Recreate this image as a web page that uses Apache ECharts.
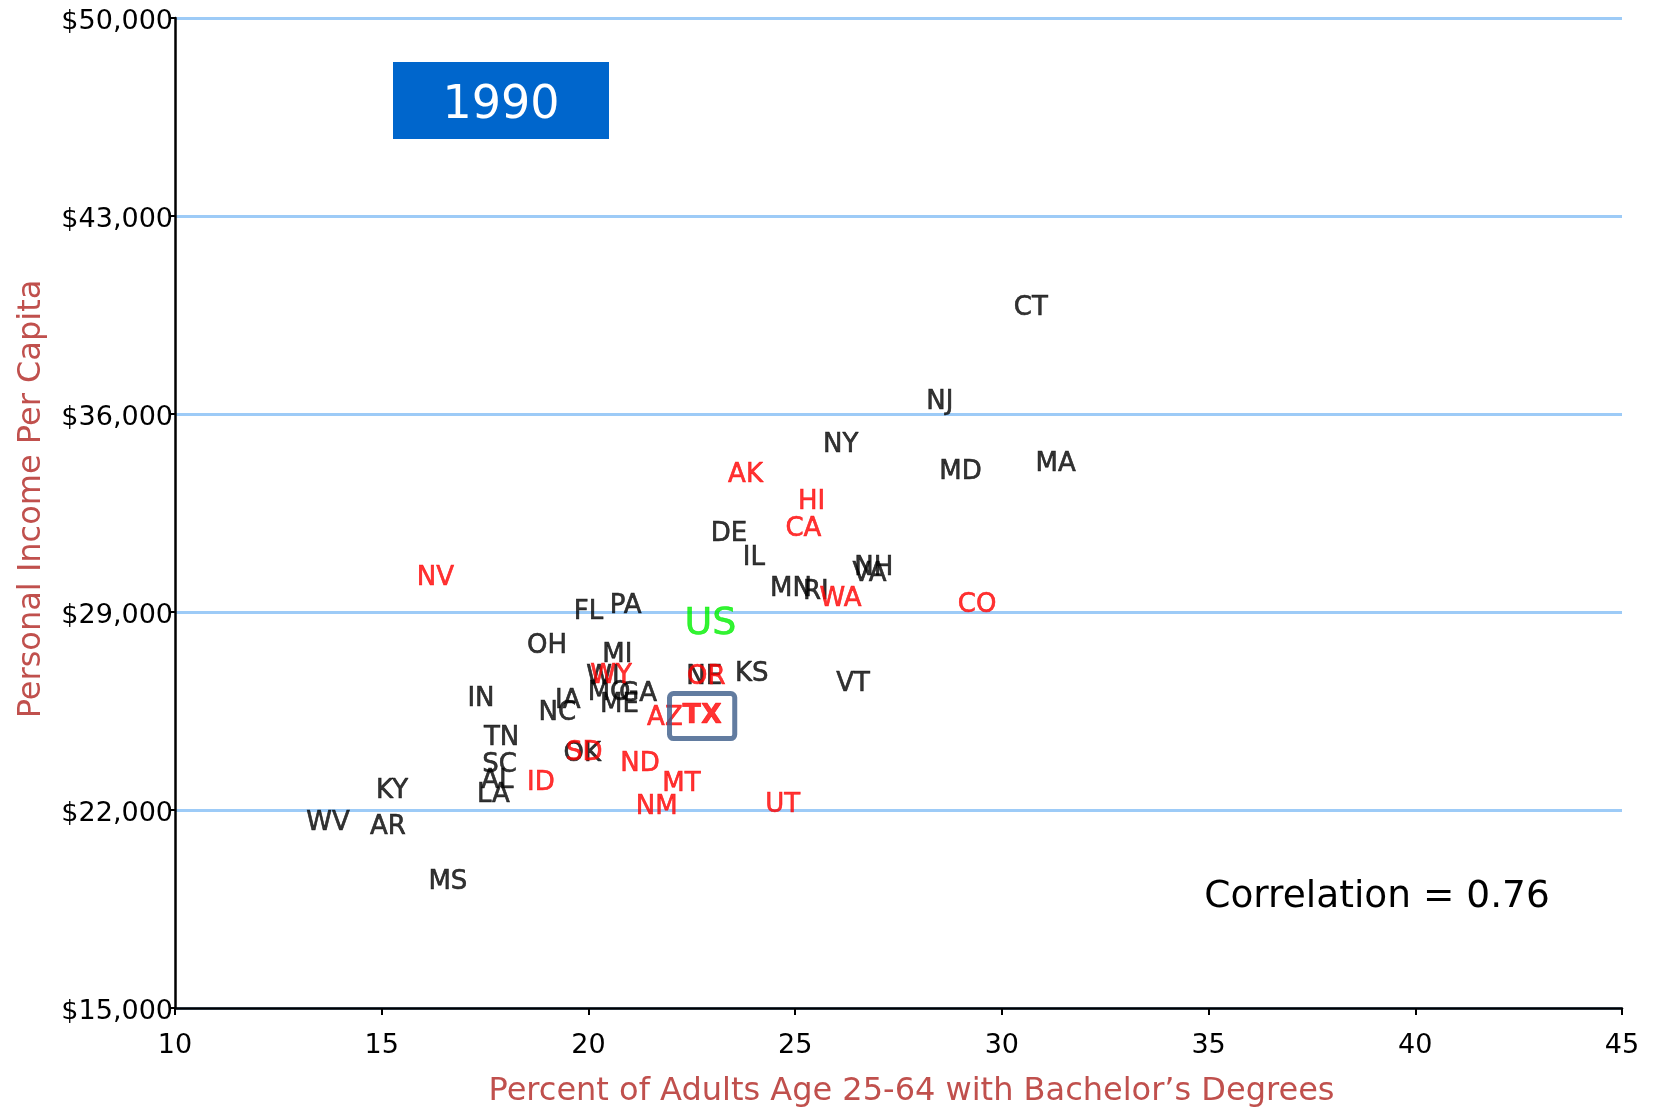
<!DOCTYPE html>
<html>
<head>
<meta charset="utf-8">
<title>1990</title>
<script src="https://cdn.jsdelivr.net/npm/echarts@6/dist/echarts.min.js"></script>
<style>
    html, body { margin: 0; padding: 0; background: #fff; }
    #chart { width: 1655px; height: 1111px; }
</style>
</head>
<body>
<div id="chart"></div>
<script>
// 州 / 学士学位比例 / 人均收入
const states = ['CT', 'NJ', 'NY', 'MA', 'MD', 'AK', 'HI', 'CA', 'DE', 'IL', 'NH', 'VA', 'NV', 'MN', 'RI', 'WA', 'CO',
    'PA', 'FL', 'OH', 'MI', 'KS', 'NE', 'OR', 'WI', 'WY', 'VT', 'MO', 'GA', 'IN', 'IA', 'ME', 'NC', 'AZ', 'TX',
    'TN', 'OK', 'SD', 'ND', 'SC', 'AL', 'ID', 'MT', 'KY', 'LA', 'NM', 'UT', 'WV', 'AR', 'MS'];
const bachelorPct = [30.7, 28.5, 26.1, 31.3, 29.0, 23.8, 25.4, 25.2, 23.4, 24.0, 26.9, 26.8, 16.3, 24.9, 25.5, 26.1, 29.4,
    20.9, 20.0, 19.0, 20.7, 23.95, 22.8, 22.85, 20.35, 20.55, 26.4, 20.5, 21.2, 17.4, 19.5, 20.75, 19.25, 21.85, 22.75,
    17.9, 19.85, 19.9, 21.25, 17.85, 17.8, 18.85, 22.25, 15.25, 17.7, 21.65, 24.7, 13.7, 15.15, 16.6];
const incomePerCapita = [39800, 36500, 34950, 34300, 34000, 33900, 32950, 31980, 31830, 30970, 30600, 30410, 30260, 29890, 29780, 29530, 29300,
    29290, 29070, 27870, 27540, 26870, 26770, 26760, 26750, 26790, 26530, 26190, 26160, 25970, 25900, 25780, 25500, 25300, 25390,
    24590, 24050, 24070, 23690, 23660, 23100, 23020, 22980, 22720, 22590, 22160, 22240, 21600, 21450, 19520];

// 西部州（红色）
const westStates = ['NV', 'AK', 'HI', 'CA', 'WA', 'CO', 'OR', 'WY', 'AZ', 'TX', 'ID', 'SD', 'ND', 'MT', 'NM', 'UT'];

// 全国
const usLabel = 'US';
const usPct = 22.95;
const usIncome = 28690;

// 刻度
const xTicks = [10, 15, 20, 25, 30, 35, 40, 45];
const yTicks = [15000, 22000, 29000, 36000, 43000, 50000];

const yearText = '1990';
const correlationText = 'Correlation = 0.76';

const FONT = 'DejaVu Sans';
const yBase = yTicks[0]; // y轴从0开始计数，标签再加回去

function buildPoints(west) {
    const out = [];
    states.forEach((s, i) => {
        const isWest = westStates.indexOf(s) >= 0;
        if (isWest !== west) return;
        const item = { name: s, value: [bachelorPct[i], incomePerCapita[i] - yBase] };
        if (s === 'TX') {
            item.label = {
                fontWeight: 'bold',
                fontSize: 27,
                borderColor: '#3B5B88',
                borderWidth: 5,
                borderRadius: 4,
                padding: [9, 13, 9, 13]
            };
        }
        out.push(item);
    });
    return out;
}

// 文字稍微加粗一点，接近原图
function labelStyle(color, extra) {
    return Object.assign({
        show: true,
        position: 'inside',
        offset: [0, 2],
        formatter: '{b}',
        fontFamily: FONT,
        fontSize: 26,
        color: color,
        textBorderColor: color,
        textBorderWidth: 0.6
    }, extra || {});
}

const chart = echarts.init(document.getElementById('chart'));

chart.setOption({
    animation: false,
    backgroundColor: '#ffffff',
    grid: { left: 175, right: 33, top: 18, bottom: 103, containLabel: false, outerBoundsMode: 'none' },
    xAxis: {
        type: 'value',
        min: xTicks[0],
        max: xTicks[xTicks.length - 1],
        interval: xTicks[1] - xTicks[0],
        name: 'Percent of Adults Age 25-64 with Bachelor\u2019s Degrees',
        nameLocation: 'middle',
        nameGap: 68,
        nameTextStyle: { color: '#C0504D', fontSize: 32, fontFamily: FONT, padding: [0, 0, 0, 26] },
        axisLine: { show: true, onZero: false, lineStyle: { color: '#000', width: 2.5 } },
        axisTick: { show: true, length: 7, lineStyle: { color: '#000', width: 2 } },
        axisLabel: { color: '#000', fontSize: 27, fontFamily: FONT, margin: 24 },
        splitLine: { show: false }
    },
    yAxis: {
        type: 'value',
        min: 0,
        max: yTicks[yTicks.length - 1] - yBase,
        interval: yTicks[1] - yTicks[0],
        name: 'Personal Income Per Capita',
        nameLocation: 'middle',
        nameGap: 127,
        nameTextStyle: { color: '#C0504D', fontSize: 32, fontFamily: FONT, padding: [0, 0, 0, 28] },
        axisLine: { show: true, lineStyle: { color: '#000', width: 2.5 } },
        axisTick: { show: true, length: 4, lineStyle: { color: '#000', width: 2 } },
        axisLabel: {
            color: '#000',
            fontSize: 27,
            fontFamily: FONT,
            margin: 2,
            verticalAlign: 'top',
            lineHeight: 8,
            formatter: v => '$' + (v + yBase).toLocaleString('en-US')
        },
        splitLine: { show: true, lineStyle: { color: '#9DCBF7', width: 3 } }
    },
    graphic: [
        {
            type: 'rect',
            left: 393,
            top: 62,
            shape: { width: 216, height: 77 },
            style: { fill: '#0066CC' },
            silent: true
        },
        {
            type: 'text',
            x: 501,
            y: 106,
            style: {
                text: yearText,
                fill: '#fff',
                font: '46px "' + FONT + '"',
                textAlign: 'center',
                textVerticalAlign: 'middle'
            },
            silent: true
        },
        {
            type: 'text',
            x: 1377,
            y: 897,
            style: {
                text: correlationText,
                fill: '#000',
                font: '37.5px "' + FONT + '"',
                textAlign: 'center',
                textVerticalAlign: 'middle'
            },
            silent: true
        }
    ],
    series: [
        {
            name: 'others',
            type: 'scatter',
            symbolSize: 1,
            silent: true,
            itemStyle: { color: 'rgba(0,0,0,0)' },
            label: labelStyle('#000000'),
            data: buildPoints(false)
        },
        {
            name: 'west',
            type: 'scatter',
            symbolSize: 1,
            silent: true,
            itemStyle: { color: 'rgba(0,0,0,0)' },
            label: labelStyle('#FF0000'),
            data: buildPoints(true)
        },
        {
            name: 'us',
            type: 'scatter',
            symbolSize: 1,
            silent: true,
            itemStyle: { color: 'rgba(0,0,0,0)' },
            label: labelStyle('#00F000', { fontSize: 38, offset: [0, 3] }),
            data: [{ name: usLabel, value: [usPct, usIncome - yBase] }]
        }
    ]
});
</script>
</body>
</html>
